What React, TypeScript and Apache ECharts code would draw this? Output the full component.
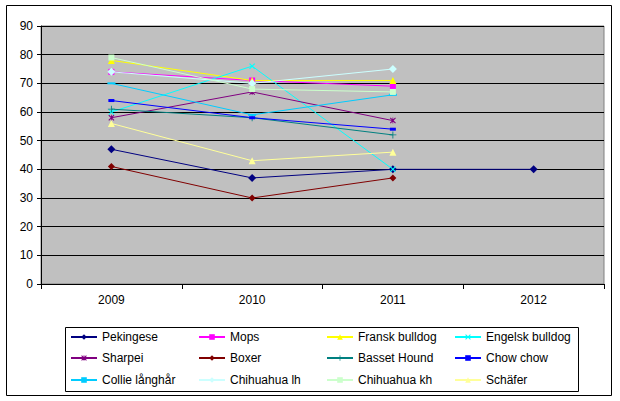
import React, { useEffect, useRef } from "react";
import * as echarts from "echarts";

const years = ["2009", "2010", "2011", "2012"];
const yTicks = [0, 10, 20, 30, 40, 50, 60, 70, 80, 90];

const names = [
  "Pekingese", "Mops", "Fransk bulldog", "Engelsk bulldog",
  "Sharpei", "Boxer", "Basset Hound", "Chow chow",
  "Collie långhår", "Chihuahua lh", "Chihuahua kh", "Schäfer",
];

const pekingese = [47, 37, 40, 40];
const mops = [74, 71, 69, null];
const franskBulldog = [78, 71, 71, null];
const engelskBulldog = [60, 76, 40, null];
const sharpei = [58, 67, 57, null];
const boxer = [41, 30, 37, null];
const bassetHound = [61, 58, 52, null];
const chowChow = [64, 58, 54, null];
const collie = [70, 59, 66, null];
const chihuahuaLh = [74, 70, 75, null];
const chihuahuaKh = [79, 68, 67, null];
const schafer = [56, 43, 46, null];

const seriesValues = [
  pekingese, mops, franskBulldog, engelskBulldog,
  sharpei, boxer, bassetHound, chowChow,
  collie, chihuahuaLh, chihuahuaKh, schafer,
];

const colors = [
  "#000080", "#FF00FF", "#FFFF00", "#00FFFF",
  "#800080", "#800000", "#008080", "#0000FF",
  "#00CCFF", "#CCFFFF", "#CCFFCC", "#FFFF99",
];

const PLUS = "path://M3.5,0h1v8h-1z M0,3.5h8v1h-8z";
const CROSS = "path://M0,1L1,0L4,3L7,0L8,1L5,4L8,7L7,8L4,5L1,8L0,7L3,4Z";
const STAR = "path://M0,1L1,0L4,3L7,0L8,1L5,4L8,7L7,8L4,5L1,8L0,7L3,4Z M3.5,0h1v8h-1z";
const DASH = "path://M0,0h8v3h-8z";

const symbols: any[] = [
  ["diamond", 8], ["rect", 6], ["triangle", 7], [CROSS, 6],
  [STAR, 6], ["diamond", 7], [PLUS, 7], [DASH, [6, 3]],
  [DASH, [8, 2]], ["diamond", 8], ["rect", 6], ["triangle", 7],
];

export default function App() {
  const ref = useRef<HTMLDivElement>(null);
  useEffect(() => {
    if (!ref.current) return;
    const chart = echarts.init(ref.current, null, { renderer: "svg" });
    const font = "'Liberation Sans', Arial, sans-serif";
    const colX = [70, 198, 326, 454];
    const rowY = [331, 352, 374];
    const legends = names.map((n, i) => ({
      data: [n],
      left: colX[i % 4],
      top: rowY[Math.floor(i / 4)],
      padding: 0,
      itemWidth: 26,
      itemHeight: 7,
      itemGap: 0,
      textStyle: { color: "#000", fontSize: 12, fontFamily: font },
    }));
    chart.setOption({
      animation: false,
      backgroundColor: "#fff",
      textStyle: { fontFamily: font },
      grid: {
        left: 41,
        top: 26,
        right: 16,
        bottom: 117,
        show: true,
        backgroundColor: "#C0C0C0",
        borderColor: "#808080",
        borderWidth: 1,
      },
      legend: legends,
      xAxis: {
        type: "category",
        data: years,
        boundaryGap: true,
        axisLine: { show: true, lineStyle: { color: "#000", width: 1 } },
        axisTick: { show: true, length: 5, lineStyle: { color: "#000" } },
        axisLabel: { color: "#000", fontSize: 12, fontFamily: font, margin: 10 },
        splitLine: { show: false },
      },
      yAxis: {
        type: "value",
        min: yTicks[0],
        max: yTicks[yTicks.length - 1],
        interval: 10,
        axisLine: { show: true, lineStyle: { color: "#000", width: 1 } },
        axisTick: { show: true, length: 4, lineStyle: { color: "#000" } },
        axisLabel: { color: "#000", fontSize: 12, fontFamily: font, margin: 8 },
        splitLine: { show: true, lineStyle: { color: "#000", width: 1 } },
      },
      series: names.map((n, i) => ({
        name: n,
        type: "line",
        data: seriesValues[i],
        connectNulls: false,
        symbol: symbols[i][0],
        symbolSize: symbols[i][1],
        showAllSymbol: true,
        lineStyle: { color: colors[i], width: 1 },
        itemStyle: { color: colors[i] },
        emphasis: { disabled: true },
      })),
      graphic: [
        {
          type: "rect",
          shape: { x: 6.5, y: 5.5, width: 605, height: 390 },
          style: { fill: "none", stroke: "#000", lineWidth: 1 },
          silent: true,
        },
        {
          type: "rect",
          shape: { x: 65.5, y: 327.5, width: 513, height: 64 },
          style: { fill: "none", stroke: "#000", lineWidth: 1 },
          silent: true,
        },
      ],
    });
    return () => chart.dispose();
  }, []);
  return (
    <div
      ref={ref}
      style={{ position: "fixed", left: 0, top: 0, width: 620, height: 401 }}
    />
  );
}
